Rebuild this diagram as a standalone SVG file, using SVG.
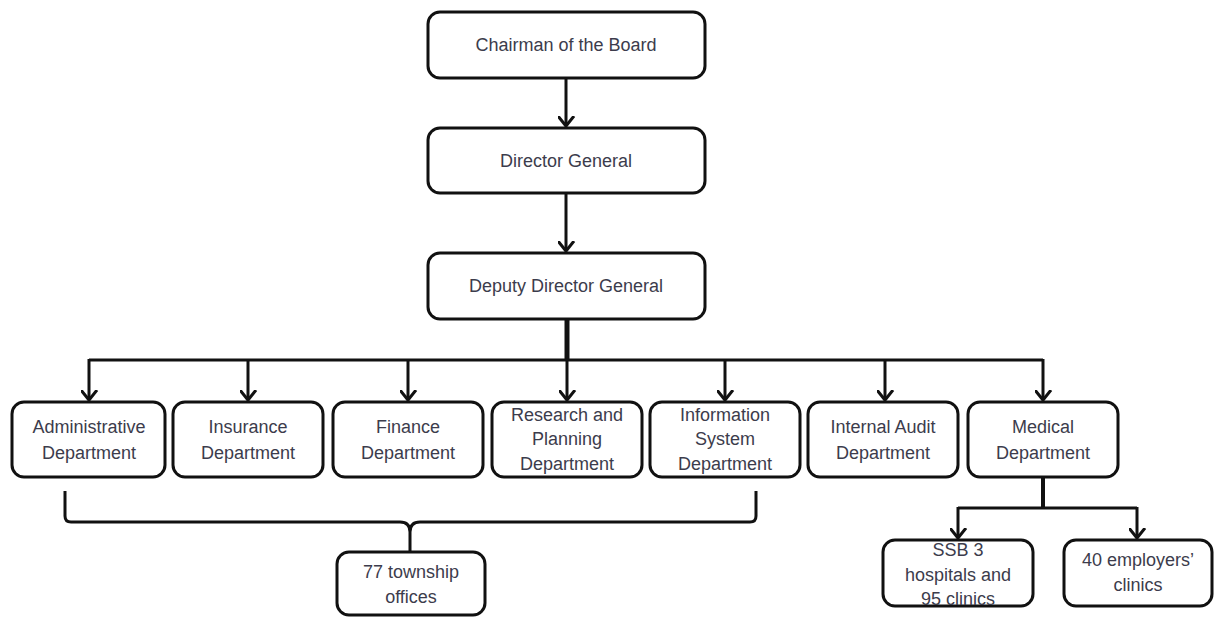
<svg xmlns="http://www.w3.org/2000/svg" width="1214" height="619" viewBox="0 0 1214 619">
<style>
.box{fill:#fff;stroke:#111;stroke-width:3}
.t{font-family:"Liberation Sans",Arial,sans-serif;font-size:18px;fill:#3c3c4c;text-anchor:middle}
.c{fill:none;stroke:#111;stroke-width:3}
</style>
<defs>
<marker id="ah" markerWidth="20" markerHeight="20" viewBox="-10 -12 20 20" refX="0" refY="0" orient="auto" markerUnits="userSpaceOnUse">
<path d="M-8,-10 L0,0 L8,-10" fill="none" stroke="#111" stroke-width="3" transform="rotate(-90)"/>
</marker>
</defs>
<g id="connectors">
<line class="c" x1="566" y1="78" x2="566" y2="126" marker-end="url(#ah)"/>
<line class="c" x1="566" y1="193" x2="566" y2="251" marker-end="url(#ah)"/>
<line class="c" x1="567" y1="319" x2="567" y2="360" style="stroke-width:5"/>
<path class="c" d="M89,360 H1043"/>
<line class="c" x1="89" y1="359" x2="89" y2="400" marker-end="url(#ah)"/>
<line class="c" x1="248" y1="360" x2="248" y2="400" marker-end="url(#ah)"/>
<line class="c" x1="408" y1="360" x2="408" y2="400" marker-end="url(#ah)"/>
<line class="c" x1="567" y1="360" x2="567" y2="400" marker-end="url(#ah)"/>
<line class="c" x1="725" y1="360" x2="725" y2="400" marker-end="url(#ah)"/>
<line class="c" x1="885" y1="360" x2="885" y2="400" marker-end="url(#ah)"/>
<line class="c" x1="1043" y1="359" x2="1043" y2="400" marker-end="url(#ah)"/>
<path class="c" d="M65,491 V516 Q65,522 71,522 H400 Q410,522 410,532 V552 M410,532 Q410,522 420,522 H750 Q756,522 756,516 V491"/>
<line class="c" x1="1043" y1="477" x2="1043" y2="508" style="stroke-width:4"/>
<path class="c" d="M958,508 H1137"/>
<line class="c" x1="958" y1="507" x2="958" y2="538" marker-end="url(#ah)"/>
<line class="c" x1="1137" y1="507" x2="1137" y2="538" marker-end="url(#ah)"/>
</g>
<g id="chairman"><rect class="box" x="428" y="12" width="277" height="66" rx="12"/><text class="t" x="566" y="51">Chairman of the Board</text></g>
<g id="director"><rect class="box" x="428" y="128" width="277" height="65" rx="12"/><text class="t" x="566" y="167">Director General</text></g>
<g id="deputy"><rect class="box" x="428" y="253" width="277" height="66" rx="12"/><text class="t" x="566" y="292">Deputy Director General</text></g>
<g id="admin"><rect class="box" x="12" y="402" width="153" height="75" rx="12"/><text class="t" x="89" y="433">Administrative</text><text class="t" x="89" y="459">Department</text></g>
<g id="insurance"><rect class="box" x="173" y="402" width="150" height="75" rx="12"/><text class="t" x="248" y="433">Insurance</text><text class="t" x="248" y="459">Department</text></g>
<g id="finance"><rect class="box" x="333" y="402" width="150" height="75" rx="12"/><text class="t" x="408" y="433">Finance</text><text class="t" x="408" y="459">Department</text></g>
<g id="research"><rect class="box" x="492" y="402" width="150" height="75" rx="12"/><text class="t" x="567" y="421">Research and</text><text class="t" x="567" y="445">Planning</text><text class="t" x="567" y="470">Department</text></g>
<g id="infosys"><rect class="box" x="650" y="402" width="150" height="75" rx="12"/><text class="t" x="725" y="421">Information</text><text class="t" x="725" y="445">System</text><text class="t" x="725" y="470">Department</text></g>
<g id="audit"><rect class="box" x="808" y="402" width="150" height="75" rx="12"/><text class="t" x="883" y="433">Internal Audit</text><text class="t" x="883" y="459">Department</text></g>
<g id="medical"><rect class="box" x="968" y="402" width="150" height="75" rx="12"/><text class="t" x="1043" y="433">Medical</text><text class="t" x="1043" y="459">Department</text></g>
<g id="township"><rect class="box" x="337" y="552" width="148" height="63" rx="12"/><text class="t" x="411" y="578">77 township</text><text class="t" x="411" y="603">offices</text></g>
<g id="ssb"><rect class="box" x="883" y="540" width="150" height="66" rx="12"/><text class="t" x="958" y="556">SSB 3</text><text class="t" x="958" y="581">hospitals and</text><text class="t" x="958" y="605">95 clinics</text></g>
<g id="employers"><rect class="box" x="1064" y="540" width="148" height="66" rx="12"/><text class="t" x="1138" y="566">40 employers’</text><text class="t" x="1138" y="591">clinics</text></g>
</svg>
